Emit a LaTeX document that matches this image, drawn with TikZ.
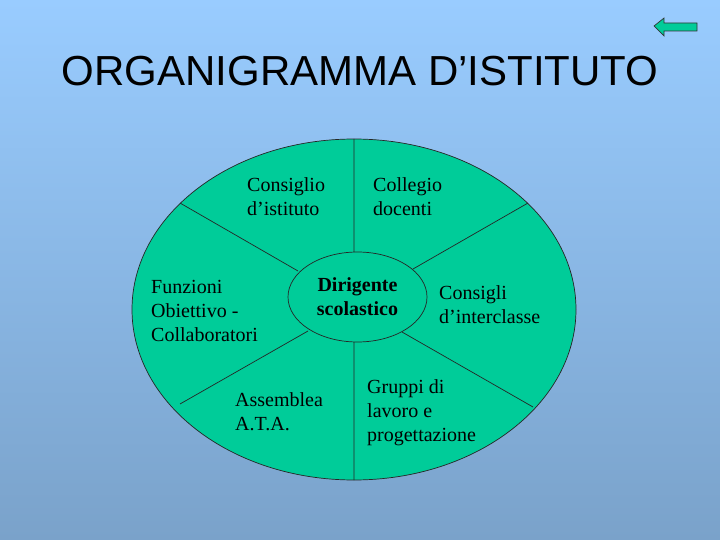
\documentclass[tikz,border=0pt]{standalone}
\usepackage{fontspec}
\usetikzlibrary{shapes.geometric}
\setmainfont{Liberation Serif}
\newfontfamily\titolofont{Liberation Sans}
\definecolor{verdeorg}{RGB}{0,204,153}
\definecolor{cielo}{RGB}{153,204,255}
\definecolor{fondo}{RGB}{122,162,202}
\begin{document}
\begin{tikzpicture}[x=1pt, y=-1pt, font=\fontsize{20}{24}\selectfont,
    voce/.style={anchor=west, align=left, inner sep=0pt}]
  % sfondo
  \shade[top color=cielo, bottom color=fondo] (0,0) rectangle (720,540);
  \useasboundingbox (0,0) rectangle (720,540);
  % titolo e freccia indietro
  \node[inner sep=0pt] (titolo) at (360,71)
    {\titolofont\fontsize{42}{46}\selectfont ORGANIGRAMMA D’ISTITUTO};
  \draw[black!80, fill=verdeorg, line width=0.7pt]
    (654,26) -- (664,18) -- (664,23) -- (697,23) -- (697,31)
    -- (664,31) -- (664,36) -- cycle;
  % ellisse esterna e raggi
  \draw[black!85, fill=verdeorg, line width=0.7pt] (354,309.5) ellipse (222 and 170.5);
  \node[draw=black!85, fill=verdeorg, ellipse, line width=0.7pt,
    minimum width=139, minimum height=90, inner sep=0pt,
    font=\fontsize{20}{24}\selectfont\bfseries, align=center]
    (dir) at (357.5,297) {Dirigente\\scolastico};
  \draw[black!85, line width=0.7pt]
    (354,139) -- (354,252)
    (354,342) -- (354,480)
    (180,203) -- (298,271)
    (528,203) -- (413,269)
    (308,331) -- (180,404)
    (402,332) -- (533,407);
  % settori
  \node[voce] (consiglio) at (247,197) {Consiglio\\d’istituto};
  \node[voce] (collegio) at (373,197) {Collegio\\docenti};
  \node[voce] (funzioni) at (151,311) {Funzioni\\Obiettivo -\\Collaboratori};
  \node[voce] (consigli) at (439,305) {Consigli\\d’interclasse};
  \node[voce] (assemblea) at (235,412) {Assemblea\\A.T.A.};
  \node[voce] (gruppi) at (367,413) {Gruppi di\\lavoro e\\progettazione};
\end{tikzpicture}
\end{document}
